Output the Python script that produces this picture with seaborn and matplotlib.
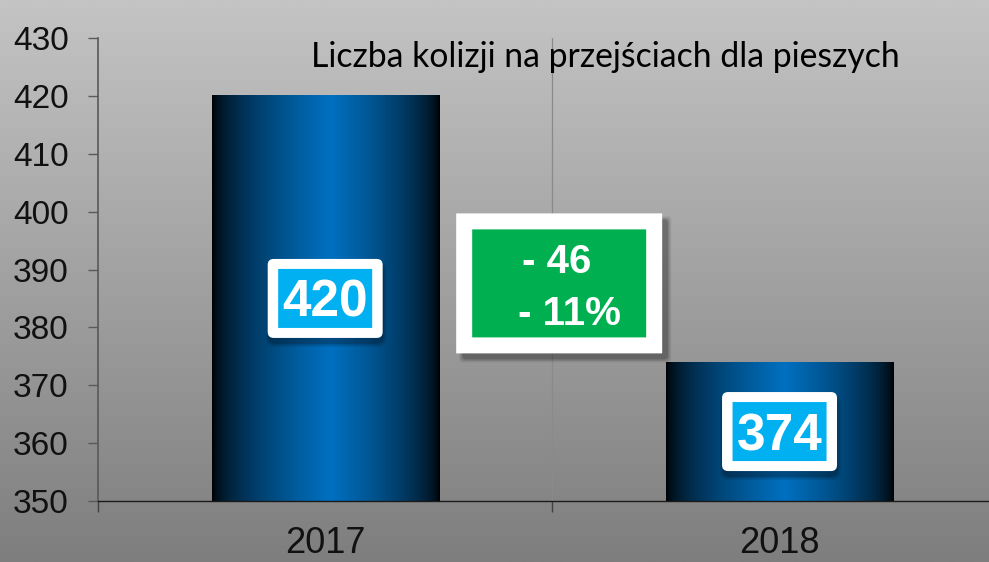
import numpy as np
import pandas as pd
import matplotlib
matplotlib.use("Agg")
import matplotlib.pyplot as plt
import seaborn as sns
from matplotlib.patches import FancyBboxPatch
from matplotlib.transforms import ScaledTranslation
from matplotlib.colors import LinearSegmentedColormap

# ---- data ----
years = ["2017", "2018"]
values = [420, 374]
diff_lines = ["- 46", "- 11%"]
title = "Liczba kolizji na przejściach dla pieszych"
yticks = [350, 360, 370, 380, 390, 400, 410, 420, 430]

sns.set_style("ticks")
plt.rcParams['font.family'] = ['Liberation Sans', 'DejaVu Sans']

W, H = 989, 562
fig = plt.figure(figsize=(W / 100, H / 100), dpi=100)

# background gradient
bg = fig.add_axes([0, 0, 1, 1], zorder=-10)
bg_cmap = LinearSegmentedColormap.from_list('bg', ['#c4c4c4', '#7e7e7e'])
bg.imshow(np.linspace(0, 1, 256).reshape(-1, 1), aspect='auto', cmap=bg_cmap,
          extent=[0, 1, 0, 1])
bg.axis('off')

ax = fig.add_axes([98 / W, 1 - 501 / H, 1 - 98 / W, (501 - 38) / H])
ax.patch.set_alpha(0)

ymin, ymax = 350, 430

df = pd.DataFrame({'rok': years, 'liczba': values})
sns.barplot(data=df, x='rok', y='liczba', width=0.5, color='#0070c0', ax=ax,
            zorder=2, saturation=1)

# gradient fill of bars
bar_cmap = LinearSegmentedColormap.from_list('bar', ['#000000', '#0070c0'])
t = np.linspace(0, 1, 256)
peak = 0.52
profile = np.where(t < peak, t / peak, (1 - t) / (1 - peak)) ** 0.6
for bar in list(ax.patches):
    x0, y0 = bar.get_x(), bar.get_y()
    w, h = bar.get_width(), bar.get_height()
    im = ax.imshow(profile.reshape(1, -1), cmap=bar_cmap, vmin=0, vmax=1,
                   extent=[x0, x0 + w, max(y0, ymin), y0 + h], aspect='auto',
                   zorder=2.2, interpolation='bicubic')
    im.set_clip_path(bar)
    im.set_clip_box(ax.bbox)
    bar.set_facecolor('none')
    bar.set_edgecolor('none')

ax.axvline(0.5, color='#8a8a8a', lw=0.9, zorder=1)


def px_box(xc, yc, w, h, fc, rounding, z, dx=0.0, dy=0.0):
    tr = fig.dpi_scale_trans + ScaledTranslation(xc, yc, ax.transData)
    p = FancyBboxPatch((-w / 200 + dx / 100, -h / 200 - dy / 100), w / 100, h / 100,
                       boxstyle=f'round,pad=0,rounding_size={rounding / 100}',
                       fc=fc, ec='none', transform=tr, zorder=z, clip_on=False)
    ax.add_patch(p)


# value labels
for i, v in enumerate(values):
    yc = (ymin + v) / 2
    for k, a in enumerate([0.08, 0.12, 0.16]):
        px_box(i, yc, 115 + 6 - 3 * k, 79 + 6 - 3 * k, (0, 0, 0, a), 8, 3 + 0.01 * k, dx=1, dy=6)
    px_box(i, yc, 115, 79, 'white', 6, 4)
    px_box(i, yc, 94, 59, '#00b0f0', 0, 5)
    ax.annotate(str(v), (i, yc), xytext=(0, -13.3), textcoords='offset points',
                ha='center', va='baseline', fontsize=37, fontweight='bold',
                color='white', zorder=6)

# difference box
gx, gy = 0.515, 387.6
for k, a in enumerate([0.08, 0.12, 0.18]):
    px_box(gx, gy, 206 + 6 - 3 * k, 140 + 6 - 3 * k, (0, 0, 0, a), 4, 3 + 0.01 * k, dx=6, dy=6)
px_box(gx, gy, 206, 140, 'white', 0, 4)
px_box(gx, gy, 174, 108, '#00b050', 0, 5)
ax.annotate(diff_lines[0], (gx, gy), xytext=(-37 * 0.72, 10 * 0.72), textcoords='offset points',
            ha='left', va='baseline', fontsize=29, fontweight='bold', color='white', zorder=6)
ax.annotate(diff_lines[1], (gx, gy), xytext=(-41 * 0.72, -42 * 0.72), textcoords='offset points',
            ha='left', va='baseline', fontsize=29, fontweight='bold', color='white', zorder=6)

# title
ax.text(0.617, 424.94, title, ha='center', va='baseline', fontsize=24.3,
        family=['Lato', 'DejaVu Sans'], color='black', zorder=7)

# axes styling
ax.set_xlabel('')
ax.set_ylabel('')
ax.set_yticks(yticks)
ax.tick_params(axis='y', length=7.2, width=1, color='#595959', pad=14,
               labelsize=24, labelcolor='#111111')
ax.set_xticks([0, 1], labels=years)
ax.set_xticks([-0.5, 0.5], minor=True)
ax.tick_params(axis='x', which='major', length=0, pad=18, labelsize=26,
               labelcolor='#111111')
ax.tick_params(axis='x', which='minor', length=8, width=1, color='#404040')
for s in ['top', 'right']:
    ax.spines[s].set_visible(False)
ax.spines['left'].set_color('#595959')
ax.spines['left'].set_linewidth(1.2)
ax.spines['bottom'].set_color('#1a1a1a')
ax.spines['bottom'].set_linewidth(1)
ax.set_xlim(-0.5, 1.461)
ax.set_ylim(ymin, ymax)

fig.savefig('out.png', dpi=100)
